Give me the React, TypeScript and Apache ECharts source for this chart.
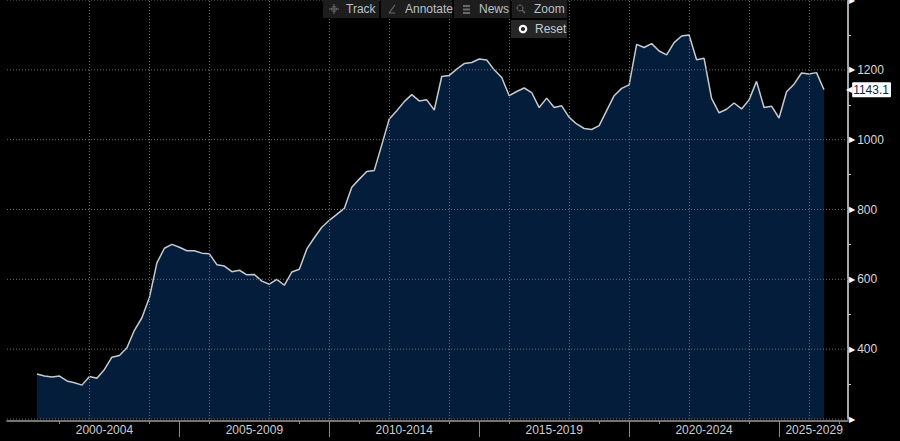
import React, { useEffect, useRef } from "react";
import * as echarts from "echarts";

// Quarterly series, Q1 2000 .. Q2 2026
const values: number[] = [
  329, 323, 320, 323, 309, 304, 297, 322, 317, 342,
  377, 382, 404, 454, 490, 548, 647, 689, 700, 692,
  682, 682, 675, 673, 642, 638, 622, 626, 613, 614,
  595, 586, 600, 583, 621, 629, 687, 719, 749, 769,
  786, 803, 864, 887, 909, 912, 985, 1059, 1083, 1109,
  1129, 1111, 1114, 1085, 1181, 1184, 1202, 1218, 1221, 1231,
  1228, 1200, 1178, 1126, 1138, 1148, 1135, 1092, 1119, 1092,
  1097, 1064, 1045, 1032, 1029, 1040, 1083, 1126, 1147, 1157,
  1273, 1264, 1275, 1254, 1243, 1278, 1297, 1300, 1229, 1233,
  1118, 1077, 1087, 1105, 1088, 1114, 1167, 1092, 1096, 1062,
  1137, 1159, 1191, 1188, 1192, 1143.1,
];
const startYear = 2000;
const quarters: string[] = values.map((_, i) => `${startYear + Math.floor(i / 4)} Q${(i % 4) + 1}`);

// x axis decorations (years)
const periodLabels = ["2000-2004", "2005-2009", "2010-2014", "2015-2019", "2020-2024", "2025-2029"];
const periodLabelPos = [2002.5, 2007.5, 2012.5, 2017.5, 2022.5, 2026.17];
const periodSeparators = [2005, 2010, 2015, 2020, 2025];
const smallTicks = [2001, 2004, 2006, 2009, 2011, 2014, 2016, 2019, 2021, 2024, 2027];
const gridYears = [2002, 2004, 2006, 2008, 2010, 2012, 2014, 2016, 2018, 2020, 2022, 2024, 2026];
const xMin = 1999.25;
const xMax = 2027.3;
const yTicks = [200, 400, 600, 800, 1000, 1200, 1400];

const quarterToX = (q: string) => {
  const [y, qq] = q.split(" Q");
  return Number(y) + Number(qq) / 4;
};

const FONT = "Liberation Sans";
const GRID_COLOR = "#6e6e6e";

export default function App() {
  const ref = useRef<HTMLDivElement>(null);
  useEffect(() => {
    if (!ref.current) return;
    const chart = echarts.init(ref.current, null, { renderer: "svg" });
    const data = quarters.map((q, i) => [quarterToX(q), values[i]]);
    const last = values[values.length - 1];

    const btn = (x: number, y: number, w: number, label: string, tx: number, icon: any[]) => [
      { type: "rect", shape: { x, y, width: w, height: 18 }, style: { fill: "#1d1d1d" }, z: 100 },
      ...icon,
      {
        type: "text",
        x: tx,
        y: y + 9,
        style: { text: label, fill: "#b9c0c8", font: `12px "${FONT}"`, textVerticalAlign: "middle" },
        z: 101,
      },
    ];

    const toolbar: any[] = [
      ...btn(323, 0, 56, "Track", 346, [
        { type: "line", shape: { x1: 329, y1: 9, x2: 339, y2: 9 }, style: { stroke: "#6a6a6a", lineWidth: 1 }, z: 101 },
        { type: "line", shape: { x1: 334, y1: 4, x2: 334, y2: 14 }, style: { stroke: "#6a6a6a", lineWidth: 1 }, z: 101 },
        { type: "circle", shape: { cx: 334, cy: 9, r: 2.5 }, style: { stroke: "#6a6a6a", fill: "none", lineWidth: 1 }, z: 101 },
      ]),
      ...btn(381, 0, 71, "Annotate", 405, [
        { type: "line", shape: { x1: 389, y1: 13, x2: 395, y2: 5 }, style: { stroke: "#6a6a6a", lineWidth: 1.2 }, z: 101 },
        { type: "line", shape: { x1: 389, y1: 13, x2: 395, y2: 13 }, style: { stroke: "#6a6a6a", lineWidth: 1 }, z: 101 },
      ]),
      ...btn(454, 0, 56, "News", 479, [
        { type: "rect", shape: { x: 463, y: 5, width: 7, height: 2 }, style: { fill: "#6a6a6a" }, z: 101 },
        { type: "rect", shape: { x: 463, y: 8.5, width: 7, height: 2 }, style: { fill: "#6a6a6a" }, z: 101 },
        { type: "rect", shape: { x: 463, y: 12, width: 7, height: 2 }, style: { fill: "#6a6a6a" }, z: 101 },
      ]),
      ...btn(512, 0, 55, "Zoom", 534, [
        { type: "circle", shape: { cx: 520, cy: 8, r: 3 }, style: { stroke: "#6a6a6a", fill: "none", lineWidth: 1 }, z: 101 },
        { type: "line", shape: { x1: 522, y1: 10, x2: 525, y2: 13 }, style: { stroke: "#6a6a6a", lineWidth: 1.2 }, z: 101 },
      ]),
      { type: "rect", shape: { x: 511, y: 20, width: 56, height: 18 }, style: { fill: "#262626" }, z: 100 },
      { type: "circle", shape: { cx: 523, cy: 29, r: 3.2 }, style: { stroke: "#ffffff", fill: "none", lineWidth: 2.2 }, z: 101 },
      {
        type: "text",
        x: 535,
        y: 29,
        style: { text: "Reset", fill: "#c4cad0", font: `12px "${FONT}"`, textVerticalAlign: "middle" },
        z: 101,
      },
    ];

    const option: any = {
      animation: false,
      backgroundColor: "#000000",
      grid: { left: 7, right: 52, top: 0, bottom: 22, containLabel: false, outerBoundsMode: "none" },
      xAxis: [
        {
          type: "value",
          min: xMin,
          max: xMax,
          offset: 2,
          position: "bottom",
          axisLine: { show: true, lineStyle: { color: "#9c9c9c", width: 1.5 } },
          axisTick: {
            show: true,
            customValues: periodSeparators,
            length: 16,
            lineStyle: { color: "#8a8a8a", width: 1 },
          },
          axisLabel: {
            show: true,
            customValues: periodLabelPos,
            margin: 3,
            color: "#cfcfcf",
            fontFamily: FONT,
            fontSize: 12,
            formatter: (v: number) => {
              const idx = periodLabelPos.findIndex((p) => Math.abs(p - v) < 0.01);
              return idx >= 0 ? periodLabels[idx] : "";
            },
          },
          splitLine: { show: false },
        },
        {
          type: "value",
          min: xMin,
          max: xMax,
          offset: 2,
          position: "bottom",
          axisLine: { show: false },
          axisTick: {
            show: true,
            customValues: smallTicks,
            length: 3,
            lineStyle: { color: "#8a8a8a", width: 1 },
          },
          axisLabel: { show: false },
          splitLine: { show: false },
        },
      ],
      yAxis: {
        type: "value",
        position: "right",
        min: 200,
        max: 1400,
        interval: 200,
        axisLine: { show: true, lineStyle: { color: "#e0e0e0", width: 1.5 } },
        axisTick: { show: false },
        minorTick: { show: true, splitNumber: 2, length: 3, lineStyle: { color: "#cccccc", width: 1 } },
        splitLine: { show: false },
        axisLabel: {
          show: true,
          margin: 1,
          showMinLabel: true,
          showMaxLabel: true,
          formatter: (v: number) =>
            v === yTicks[0] || v === yTicks[yTicks.length - 1] ? "{t|▶}" : `{t|▶}{v|${v}}`,
          rich: {
            t: { color: "#ffffff", fontSize: 8, fontFamily: "DejaVu Sans" },
            v: { color: "#d8d8d8", fontSize: 12, fontFamily: FONT, padding: [0, 0, 0, 2] },
          },
        },
      },
      series: [
        {
          type: "line",
          data,
          symbol: "none",
          z: 2,
          lineStyle: { color: "#c9c9c9", width: 1.5 },
          areaStyle: { color: "#041d3b", opacity: 1 },
          endLabel: {
            show: true,
            distance: 22,
            formatter: () => `{a|◀}{b|${last}}`,
            rich: {
              a: { color: "#ffffff", fontSize: 8, fontFamily: "DejaVu Sans" },
              b: {
                backgroundColor: "#ffffff",
                color: "#14243c",
                fontSize: 12,
                fontFamily: FONT,
                padding: [2, 2, 1, 1],
                borderRadius: 1,
              },
            },
          },
          markLine: {
            silent: true,
            symbol: "none",
            label: { show: false },
            lineStyle: { color: GRID_COLOR, width: 1, type: [1, 2] },
            data: gridYears.map((y) => ({ xAxis: y })),
          },
        },
      ],
      graphic: toolbar,
    };
    chart.setOption(option);

    // horizontal dotted gridlines at the y-axis ticks, positioned through the axis scales
    const xl = chart.convertToPixel({ xAxisIndex: 0 }, xMin) as number;
    const xr = chart.convertToPixel({ xAxisIndex: 0 }, xMax) as number;
    const hLines = yTicks.map((v) => {
      const py = chart.convertToPixel({ yAxisIndex: 0 }, v) as number;
      return {
        type: "line",
        silent: true,
        z: 50,
        shape: { x1: xl, y1: py, x2: xr, y2: py },
        style: { stroke: GRID_COLOR, lineWidth: 1, lineDash: [1, 2] },
      };
    });
    chart.setOption({ graphic: [...toolbar, ...hLines] });

    return () => chart.dispose();
  }, []);

  return (
    <div
      ref={ref}
      style={{ position: "absolute", left: 0, top: 0, width: 900, height: 441, background: "#000" }}
    />
  );
}
